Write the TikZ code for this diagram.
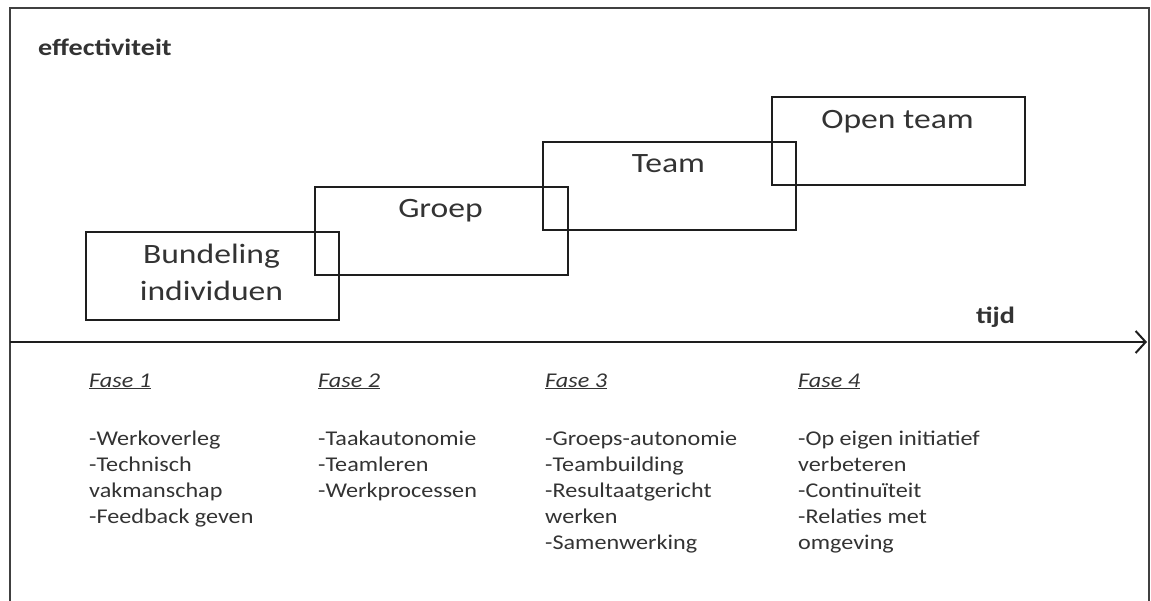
\documentclass[tikz,border=0pt]{standalone}
\usepackage{fontspec}
\setmainfont{Carlito}
\newfontfamily\boxfont[FakeStretch=1.2]{Carlito}
\newfontfamily\listfont[FakeStretch=1.15]{Carlito}
\usetikzlibrary{arrows.meta}
\definecolor{ink}{HTML}{333333}
\definecolor{linec}{HTML}{1E1E1E}
\tikzset{
  frameline/.style={draw=linec!85, line width=2pt},
  phasebox/.style={draw=linec, line width=2pt, minimum width=253pt, minimum height=88pt, inner sep=0pt, anchor=north west},
  boxlabel/.style={font=\boxfont\fontsize{28}{37}\selectfont, text=ink, anchor=base, align=center, inner sep=0pt},
  axislabel/.style={font=\boxfont\bfseries\fontsize{23.5}{26}\selectfont, text=ink, anchor=base west, inner sep=0pt},
  fasehead/.style={font=\listfont\itshape\fontsize{21}{26}\selectfont, text=ink, anchor=base west, inner sep=0pt},
  itemlist/.style={font=\listfont\fontsize{21}{26}\selectfont, text=ink, anchor=base west, align=left, inner sep=0pt},
  axisline/.style={draw=linec, line width=2pt, -{Straight Barb[length=10pt,width=22pt,line width=2pt]}}
}
\begin{document}
\begin{tikzpicture}[x=1pt,y=-1pt]
\useasboundingbox (0,0) rectangle (1151,600);
% outer frame (open at the bottom)
\draw[frameline] (10,610) -- (10,8) -- (1149,8) -- (1149,610);

% axis labels
\node[axislabel] (eff) at (38,55) {effectiviteit};
\node[axislabel] (tijd) at (976,323) {tijd};

% time axis
\coordinate (ax0) at (10,342);
\coordinate (ax1) at (1147,342);
\draw[axisline] (ax0) -- (ax1);

% phase boxes
\node[phasebox] (b1) at (85,231) {};
\node[phasebox] (b2) at (314,186) {};
\node[phasebox] (b3) at (542,141) {};
\node[phasebox] (b4) at (771,96) {};

% labels (base anchor = baseline of the last line)
\node[boxlabel] (l1) at (211.5,300) {Bundeling\\individuen};
\node[boxlabel] (l2) at (440.5,217) {Groep};
\node[boxlabel] (l3) at (668.5,172) {Team};
\node[boxlabel] (l4) at (897.5,128) {Open team};

% phase headers
\node[fasehead] (f1) at (89,387) {\underline{Fase 1}};
\node[fasehead] (f2) at (318,387) {\underline{Fase 2}};
\node[fasehead] (f3) at (545,387) {\underline{Fase 3}};
\node[fasehead] (f4) at (798,387) {\underline{Fase 4}};

% phase items (base anchor = baseline of the last line)
\node[itemlist] (i1) at (89,523) {-Werkoverleg\\-Technisch\\vakmanschap\\-Feedback geven};
\node[itemlist] (i2) at (318,497) {-Taakautonomie\\-Teamleren\\-Werkprocessen};
\node[itemlist] (i3) at (545,549) {-Groeps-autonomie\\-Teambuilding\\-Resultaatgericht\\werken\\-Samenwerking};
\node[itemlist] (i4) at (798,549) {-Op eigen initiatief\\verbeteren\\-Continuïteit\\-Relaties met\\omgeving};
\end{tikzpicture}
\end{document}
